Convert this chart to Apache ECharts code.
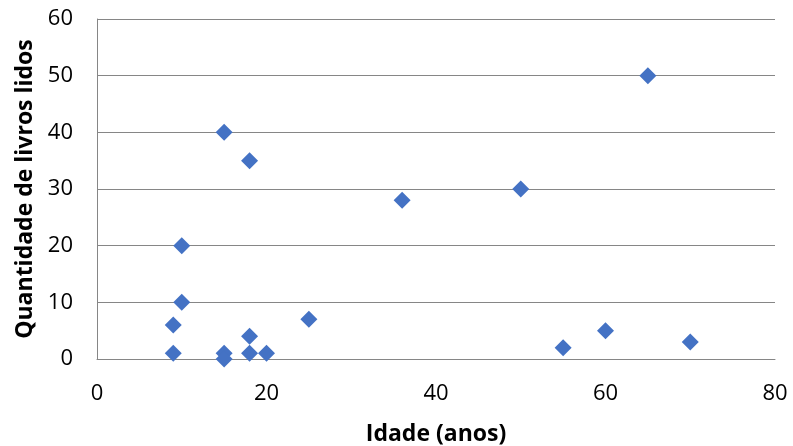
<!DOCTYPE html>
<html lang="pt">
<head>
    <meta charset="UTF-8">
    <title>Idade x livros lidos</title>
    <script src="https://cdn.jsdelivr.net/npm/echarts@6/dist/echarts.min.js"></script>
    <style>
        body { margin: 0; padding: 0; background: #fff; }
        #chart { width: 793px; height: 446px; }
    </style>
</head>
<body>
    <div id="chart"></div>
    <script>
        // dados
        var idade = [9, 9, 10, 10, 15, 15, 15, 18, 18, 18, 20, 25, 36, 50, 55, 60, 65, 70];
        var livros = [1, 6, 10, 20, 40, 1, 0, 35, 4, 1, 1, 7, 28, 30, 2, 5, 50, 3];

        var pontos = idade.map(function (x, i) { return [x, livros[i]]; });

        var fonte = '"Open Sans", "Noto Sans", sans-serif';
        var myChart = echarts.init(document.getElementById('chart'));

        myChart.setOption({
            backgroundColor: '#fff',
            animation: false,
            grid: { left: 97, right: 18, top: 19, bottom: 87, containLabel: false, outerBoundsMode: 'none' },
            xAxis: {
                type: 'value',
                min: 0, max: 80, interval: 20,
                name: 'Idade (anos)',
                nameLocation: 'middle',
                nameGap: 64,
                nameTextStyle: { fontFamily: fonte, fontSize: 23, fontWeight: 'bold', color: '#000' },
                axisLine: { show: true, lineStyle: { color: '#868686', width: 1 } },
                axisTick: { show: false },
                axisLabel: { fontFamily: fonte, fontSize: 22, color: '#000', margin: 24 },
                splitLine: { show: false }
            },
            yAxis: {
                type: 'value',
                min: 0, max: 60, interval: 10,
                name: 'Quantidade de livros lidos',
                nameLocation: 'middle',
                nameGap: 60,
                nameRotate: 90,
                nameTextStyle: { fontFamily: fonte, fontSize: 23, fontWeight: 'bold', color: '#000' },
                axisLine: { show: true, lineStyle: { color: '#868686', width: 1 } },
                axisTick: { show: false },
                axisLabel: { fontFamily: fonte, fontSize: 22, color: '#000', margin: 24 },
                splitLine: { lineStyle: { color: '#868686', width: 1 } }
            },
            series: [{
                type: 'scatter',
                data: pontos,
                symbol: 'diamond',
                symbolSize: 17,
                itemStyle: { color: '#4472C4', opacity: 1 }
            }]
        });
    </script>
</body>
</html>
